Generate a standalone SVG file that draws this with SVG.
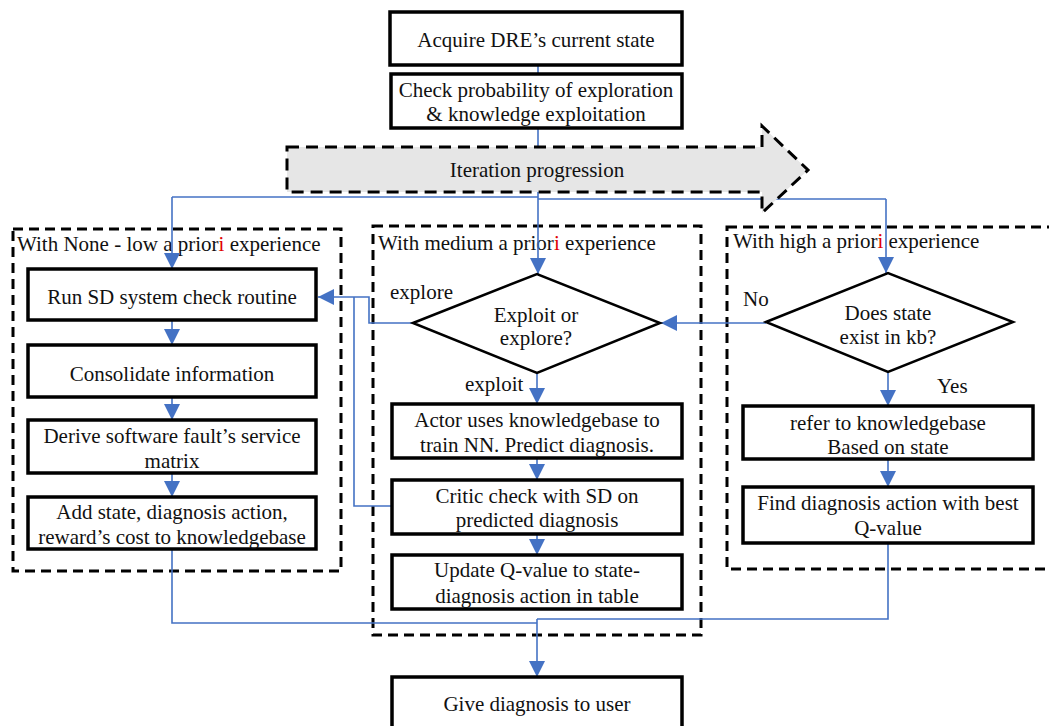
<svg xmlns="http://www.w3.org/2000/svg" width="1049" height="726" viewBox="0 0 1049 726">
  <style>
    text { font-size: 21px; fill: #111; }
    .c { text-anchor: middle; }
    .box { fill: #fff; stroke: #000; stroke-width: 3.5; }
    .dia { fill: #fff; stroke: #000; stroke-width: 2.5; }
    .zone { fill: none; stroke: #000; stroke-width: 3; stroke-dasharray: 10 6; }
    .wire { fill: none; stroke: #4472C4; stroke-width: 1.6; }
    .arr { marker-end: url(#head); }
    .red { fill: #e00000; }
  </style>
  <defs>
    <marker id="head" markerUnits="userSpaceOnUse" markerWidth="16" markerHeight="16" refX="16" refY="8" orient="auto" viewBox="0 0 16 16">
      <path d="M0,0 L16,8 L0,16 z" fill="#4472C4"/>
    </marker>
  </defs>
  <rect width="1049" height="726" fill="#fff"/>
  <g font-family="'Liberation Serif', 'Times New Roman', 'DejaVu Serif', serif">

  <!-- experience zones -->
  <g id="zone-low">
    <rect class="zone" x="13" y="229" width="328" height="342"/>
    <text x="17" y="251">With None - low a prior<tspan class="red">i</tspan> experience</text>
  </g>
  <g id="zone-medium">
    <rect class="zone" x="373" y="226" width="328" height="409"/>
    <text x="378" y="250">With medium a prior<tspan class="red">i</tspan> experience</text>
  </g>
  <g id="zone-high">
    <rect class="zone" x="727" y="227" width="340" height="342"/>
    <text x="733" y="248">With high a prior<tspan class="red">i</tspan> experience</text>
  </g>

  <!-- connectors -->
  <g id="connectors">
    <path class="wire" d="M538,65 V74"/>
    <path class="wire arr" d="M538,128 V274"/>
    <path class="wire" d="M538,197 H172"/>
    <path class="wire arr" d="M172,197 V269"/>
    <path class="wire" d="M538,199 H886"/>
    <path class="wire arr" d="M886,199 V273"/>
    <path class="wire arr" d="M172,320 V345"/>
    <path class="wire arr" d="M172,397 V420"/>
    <path class="wire arr" d="M172,473 V497"/>
    <path class="wire arr" d="M413,323 H369 V297 H318"/>
    <path class="wire" d="M392,506 H354 V297"/>
    <path class="wire arr" d="M766,323 H661"/>
    <path class="wire arr" d="M537,373 V404"/>
    <path class="wire arr" d="M537,458 V480"/>
    <path class="wire arr" d="M537,534 V555"/>
    <path class="wire arr" d="M888,372 V406"/>
    <path class="wire arr" d="M888,459 V487"/>
    <path class="wire" d="M172,549 V623 H537"/>
    <path class="wire" d="M888,543 V619 H537"/>
    <path class="wire arr" d="M537,619 V677"/>
  </g>

  <!-- iteration arrow -->
  <g id="iteration">
    <polygon points="287,147 762,147 762,126 808,170 762,213 762,192 287,192" fill="#e6e6e6" stroke="#000" stroke-width="3" stroke-dasharray="12 7"/>
    <text class="c" x="537" y="177">Iteration progression</text>
  </g>

  <g id="acquire">
    <rect class="box" x="390" y="12" width="292" height="53"/>
    <text class="c" x="536" y="47">Acquire DRE’s current state</text>
  </g>
  <g id="check-probability">
    <rect class="box" x="391" y="74" width="291" height="54"/>
    <text class="c" x="536" y="97">Check probability of exploration</text>
    <text class="c" x="536" y="121">&amp; knowledge exploitation</text>
  </g>

  <!-- low experience column -->
  <g id="run-sd">
    <rect class="box" x="28" y="269" width="288" height="51"/>
    <text class="c" x="172" y="304">Run SD system check routine</text>
  </g>
  <g id="consolidate">
    <rect class="box" x="28" y="345" width="288" height="52"/>
    <text class="c" x="172" y="381">Consolidate information</text>
  </g>
  <g id="derive">
    <rect class="box" x="28" y="420" width="288" height="53"/>
    <text class="c" x="172" y="443">Derive software fault’s service</text>
    <text class="c" x="172" y="468">matrix</text>
  </g>
  <g id="add-state">
    <rect class="box" x="28" y="497" width="288" height="52"/>
    <text class="c" x="172" y="519">Add state, diagnosis action,</text>
    <text class="c" x="172" y="544">reward’s cost to knowledgebase</text>
  </g>

  <!-- medium experience column -->
  <g id="exploit-or-explore">
    <polygon class="dia" points="413,323 537,274 660,323 537,373"/>
    <text class="c" x="536" y="322">Exploit or</text>
    <text class="c" x="536" y="345">explore?</text>
    <text x="390" y="299">explore</text>
    <text x="465" y="391">exploit</text>
  </g>
  <g id="actor">
    <rect class="box" x="392" y="404" width="290" height="54"/>
    <text class="c" x="537" y="427">Actor uses knowledgebase to</text>
    <text class="c" x="537" y="452">train NN. Predict diagnosis.</text>
  </g>
  <g id="critic">
    <rect class="box" x="392" y="480" width="290" height="54"/>
    <text class="c" x="537" y="503">Critic check with SD on</text>
    <text class="c" x="537" y="527">predicted diagnosis</text>
  </g>
  <g id="update-q">
    <rect class="box" x="392" y="555" width="290" height="54"/>
    <text class="c" x="537" y="577">Update Q-value to state-</text>
    <text class="c" x="537" y="603">diagnosis action in table</text>
  </g>

  <!-- high experience column -->
  <g id="state-in-kb">
    <polygon class="dia" points="766,322 888,273 1013,322 888,372"/>
    <text class="c" x="888" y="320">Does state</text>
    <text class="c" x="888" y="344">exist in kb?</text>
    <text x="743" y="306">No</text>
    <text x="937" y="393">Yes</text>
  </g>
  <g id="refer-kb">
    <rect class="box" x="743" y="406" width="290" height="53"/>
    <text class="c" x="888" y="430">refer to knowledgebase</text>
    <text class="c" x="888" y="454">Based on state</text>
  </g>
  <g id="best-q">
    <rect class="box" x="743" y="487" width="290" height="56"/>
    <text class="c" x="888" y="510">Find diagnosis action with best</text>
    <text class="c" x="888" y="535">Q-value</text>
  </g>

  <g id="give-diagnosis">
    <rect class="box" x="392" y="677" width="290" height="64"/>
    <text class="c" x="537" y="711">Give diagnosis to user</text>
  </g>
  </g>
</svg>
